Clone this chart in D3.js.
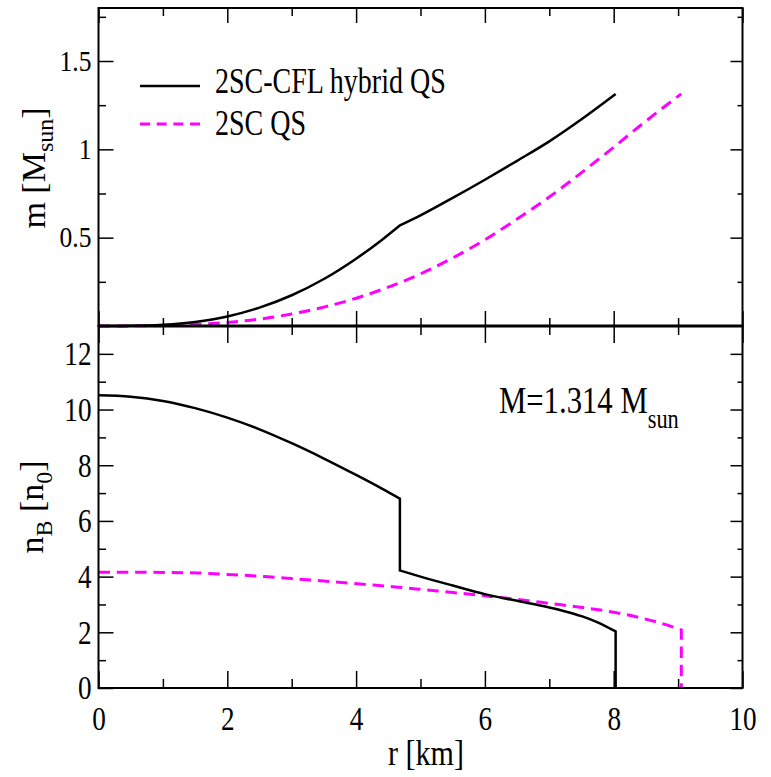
<!DOCTYPE html>
<html>
<head>
<meta charset="utf-8">
<script src="https://cdn.jsdelivr.net/npm/d3@7"></script>
<style>
  body { margin: 0; background: #fff; }
  svg { display: block; }
  svg text { font-family: "Liberation Serif", "DejaVu Serif", "Tinos", "Noto Serif", "Times New Roman", Times, serif; fill: #000; }
  .tick line { stroke: #000; stroke-width: 1.5; }
  .domain { display: none; }
</style>
</head>
<body>
<svg class="root" width="771" height="777"></svg>
<script>
// --- data ---
// top panel: enclosed mass m(r) [M_sun]
var rHybM = [0, 0.5, 1, 1.5, 2, 2.5, 3, 3.5, 4, 4.4, 4.68, 5, 5.5, 6, 6.5, 7, 7.5, 8.03];
var mHyb  = [0, 0.001, 0.007, 0.023, 0.054, 0.104, 0.174, 0.266, 0.381, 0.487, 0.569, 0.626, 0.725, 0.828, 0.935, 1.045, 1.17, 1.313];
var hybMBreaks = [10];   // kink at the 2SC/CFL interface

var r2scM = [0, 1, 1.5, 2, 2.5, 3, 3.5, 4, 4.5, 5, 5.5, 6, 6.5, 7, 7.5, 8, 8.5, 9.05];
var m2sc  = [0, 0.0025, 0.008, 0.02, 0.039, 0.068, 0.107, 0.157, 0.22, 0.295, 0.385, 0.488, 0.605, 0.73, 0.868, 1.012, 1.16, 1.314];

// bottom panel: baryon density n_B(r) [n_0]
var rHybN = [0, 0.5, 1, 1.5, 2, 2.5, 3, 3.5, 4, 4.4, 4.68, 4.68, 5, 5.5, 6, 6.5, 7, 7.25, 7.5, 7.75, 8.03, 8.03];
var nHyb  = [10.51, 10.46, 10.31, 10.05, 9.71, 9.29, 8.79, 8.24, 7.65, 7.16, 6.80, 4.22, 4.0, 3.68, 3.37, 3.13, 2.89, 2.75, 2.58, 2.36, 2.03, 0];

var r2scN = [0, 1, 1.55, 2, 2.58, 3, 3.62, 4.2, 4.65, 5.1, 5.5, 6, 6.55, 7, 7.58, 8, 8.36, 8.7, 9.05, 9.05];
var n2sc  = [4.16, 4.15, 4.13, 4.08, 4.0, 3.93, 3.82, 3.71, 3.62, 3.52, 3.43, 3.31, 3.17, 3.04, 2.87, 2.72, 2.55, 2.35, 2.09, 0];

var legendLabels = ["2SC-CFL hybrid QS", "2SC QS"];
var xMajor = [0, 2, 4, 6, 8, 10];
var mMajor = [0.5, 1, 1.5];
var nMajor = [0, 2, 4, 6, 8, 10, 12];

var svg = d3.select(".root");

var left = 98.5, right = 742.5,
    topY = 8, midY = 326, botY = 688;

var x = d3.scaleLinear().domain([0, 10]).range([left, right]);
var yM = d3.scaleLinear().domain([0, 1.8]).range([midY, topY]);
var yN = d3.scaleLinear().domain([0, 13]).range([botY, midY]);

function zip(rs, vs) { return rs.map((r, i) => [r, vs[i]]); }

// split at repeated r (vertical jumps) or given kinks, smooth each piece,
// then join the pieces into one continuous path
function pathFor(pts, yScale, kinks) {
  kinks = kinks || [];
  var cuts = [0];
  for (var i = 1; i < pts.length; i++) {
    if (pts[i][0] === pts[i - 1][0]) cuts.push(i);
  }
  kinks.forEach(b => cuts.push(b));
  cuts = Array.from(new Set(cuts)).sort((a, b) => a - b);
  var line = d3.line()
      .x(d => x(d[0]))
      .y(d => yScale(d[1]))
      .curve(d3.curveMonotoneX);
  var out = "";
  cuts.forEach((c, k) => {
    var end = k + 1 < cuts.length ? cuts[k + 1] : pts.length;
    var piece = pts.slice(c, end);
    if (k + 1 < cuts.length && kinks.indexOf(cuts[k + 1]) >= 0) piece.push(pts[cuts[k + 1]]);
    var p = piece.length > 1 ? line(piece) : "M" + x(piece[0][0]) + "," + yScale(piece[0][1]);
    out += k === 0 ? p : "L" + p.slice(1);
  });
  return out;
}

var magenta = "#ff00ff";
var dash = "11.5,6.8";

// --- curves ---
svg.append("path")
    .attr("d", pathFor(zip(r2scM, m2sc), yM))
    .attr("fill", "none").attr("stroke", magenta).attr("stroke-width", 3)
    .attr("stroke-dasharray", dash);
svg.append("path")
    .attr("d", pathFor(zip(rHybM, mHyb), yM, hybMBreaks))
    .attr("fill", "none").attr("stroke", "#000").attr("stroke-width", 2.5);

svg.append("path")
    .attr("d", pathFor(zip(r2scN, n2sc), yN))
    .attr("fill", "none").attr("stroke", magenta).attr("stroke-width", 3)
    .attr("stroke-dasharray", dash);
svg.append("path")
    .attr("d", pathFor(zip(rHybN, nHyb), yN))
    .attr("fill", "none").attr("stroke", "#000").attr("stroke-width", 2.5);

// --- axes (ticks point inward on every side) ---
function addAxis(axis, tx, ty) {
  var g = svg.append("g")
      .attr("transform", "translate(" + tx + "," + ty + ")")
      .call(axis.tickSizeOuter(0));
  g.attr("font-family", null);
  return g;
}

var xMinor = d3.range(1, 10, 2);
var plain = d3.format("");

// top panel
addAxis(d3.axisTop(x).tickValues(xMajor).tickSize(-15).tickFormat(""), 0, topY);
addAxis(d3.axisTop(x).tickValues(xMinor).tickSize(-8).tickFormat(""), 0, topY);
addAxis(d3.axisBottom(x).tickValues(xMajor).tickSize(-15).tickFormat(""), 0, midY);
addAxis(d3.axisBottom(x).tickValues(xMinor).tickSize(-8).tickFormat(""), 0, midY);

var mLeft = addAxis(d3.axisLeft(yM).tickValues(mMajor).tickFormat(plain).tickSize(-15).tickPadding(7), left, 0);
addAxis(d3.axisLeft(yM).tickValues([0.25, 0.75, 1.25, 1.75]).tickSize(-7.5).tickFormat(""), left, 0);
addAxis(d3.axisRight(yM).tickValues(mMajor).tickSize(-12).tickFormat(""), right, 0);
addAxis(d3.axisRight(yM).tickValues([0.25, 0.75, 1.25, 1.75]).tickSize(-5).tickFormat(""), right, 0);

mLeft.selectAll("text")
    .attr("x", null)
    .attr("transform", "translate(-7,0) scale(0.88,1)")
    .style("font-size", "29px");

// bottom panel
addAxis(d3.axisTop(x).tickValues(xMajor).tickSize(-17).tickFormat(""), 0, midY);
addAxis(d3.axisTop(x).tickValues(xMinor).tickSize(-9).tickFormat(""), 0, midY);
var xBot = addAxis(d3.axisBottom(x).tickValues(xMajor).tickFormat(plain).tickSize(-17).tickPadding(18), 0, botY);
addAxis(d3.axisBottom(x).tickValues(xMinor).tickSize(-9).tickFormat(""), 0, botY);

var nLeft = addAxis(d3.axisLeft(yN).tickValues(nMajor).tickFormat(plain).tickSize(-15).tickPadding(7), left, 0);
addAxis(d3.axisLeft(yN).tickValues(d3.range(1, 13, 2)).tickSize(-7.5).tickFormat(""), left, 0);
addAxis(d3.axisRight(yN).tickValues(nMajor).tickSize(-12).tickFormat(""), right, 0);
addAxis(d3.axisRight(yN).tickValues(d3.range(1, 13, 2)).tickSize(-5).tickFormat(""), right, 0);

nLeft.selectAll("text")
    .attr("x", null)
    .attr("transform", "translate(-7,0) scale(0.8,1)")
    .style("font-size", "34px");
xBot.selectAll("text")
    .attr("transform", "scale(0.8,1)")
    .style("font-size", "34px");

// frames
svg.append("rect")
    .attr("x", left).attr("y", topY).attr("width", right - left).attr("height", midY - topY)
    .attr("fill", "none").attr("stroke", "#000").attr("stroke-width", 2);
svg.append("rect")
    .attr("x", left).attr("y", midY).attr("width", right - left).attr("height", botY - midY)
    .attr("fill", "none").attr("stroke", "#000").attr("stroke-width", 2);
svg.append("line")
    .attr("x1", left).attr("x2", right).attr("y1", midY).attr("y2", midY)
    .attr("stroke", "#000").attr("stroke-width", 2.8);

// --- titles ---
var mTitle = svg.append("text")
    .attr("transform", "translate(45,168) rotate(-90)")
    .attr("text-anchor", "middle")
    .style("font-size", "34px");
mTitle.append("tspan").text("m [M");
mTitle.append("tspan").attr("dy", 8).style("font-size", "24px").text("sun");
mTitle.append("tspan").attr("dy", -8).text("]");

var nTitle = svg.append("text")
    .attr("transform", "translate(43,507) rotate(-90)")
    .attr("text-anchor", "middle")
    .style("font-size", "34px");
nTitle.append("tspan").text("n");
nTitle.append("tspan").attr("dy", 9).style("font-size", "24px").text("B");
nTitle.append("tspan").attr("dy", -9).text(" [n");
nTitle.append("tspan").attr("dy", 9).style("font-size", "24px").text("0");
nTitle.append("tspan").attr("dy", -9).text("]");

svg.append("text")
    .attr("transform", "translate(426,765) scale(0.86,1)")
    .attr("text-anchor", "middle")
    .style("font-size", "35px")
    .text("r [km]");

var note = svg.append("text")
    .attr("transform", "translate(499,413) scale(0.83,1)")
    .style("font-size", "37px");
note.append("tspan").text("M=1.314 M");
note.append("tspan").attr("dy", 15).style("font-size", "27px").text("sun");

// --- legend ---
var legend = svg.append("g");
legendLabels.forEach((lab, i) => {
  var ly = [86, 124][i];
  legend.append("line")
      .attr("x1", 140).attr("x2", 200).attr("y1", ly).attr("y2", ly)
      .attr("stroke", i === 0 ? "#000" : magenta).attr("stroke-width", i === 0 ? 2.5 : 3)
      .attr("stroke-dasharray", i === 0 ? null : "10,6.7");
  legend.append("text")
      .attr("transform", "translate(215," + [93, 135][i] + ") scale(0.8,1)")
      .style("font-size", "35px")
      .text(lab);
});
</script>
</body>
</html>
